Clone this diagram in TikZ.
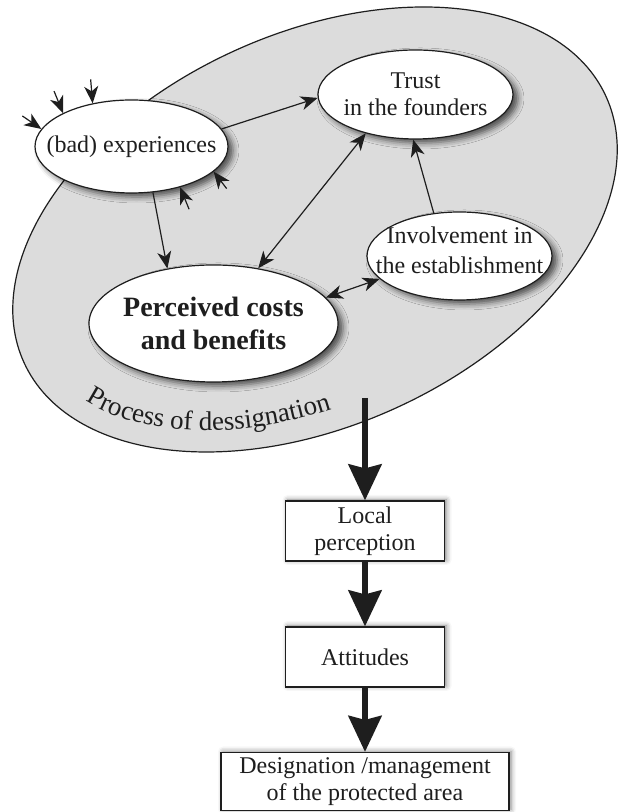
\documentclass[tikz,border=0pt]{standalone}
\usepackage{fontspec}
\setmainfont{Liberation Serif}
\usepackage{tikz}
\usetikzlibrary{arrows.meta,positioning,shapes.geometric,shadows.blur,decorations.text,calc}
\definecolor{procgray}{HTML}{DCDCDC}
\definecolor{inkcolor}{HTML}{1E1E1E}

\begin{document}
\begin{tikzpicture}[
        x=0.5pt,
        y=0.5pt,
        >={Stealth[length=8.5pt, width=7pt, inset=2.5pt]},
        procshape/.style={ellipse, draw=inkcolor, fill=procgray, line width=0.6pt, inner sep=0pt},
        bubble/.style={ellipse, draw=inkcolor, fill=white, line width=0.6pt, inner sep=0pt,
            blur shadow={shadow xshift=2.5pt, shadow yshift=-2pt, shadow blur radius=3pt, shadow opacity=65}},
        stagebox/.style={rectangle, draw=inkcolor, fill=white, line width=0.6pt, inner sep=0pt,
            minimum width=79.5pt, minimum height=30pt,
            blur shadow={shadow xshift=1pt, shadow yshift=0.5pt, shadow blur radius=2.5pt, shadow opacity=50}},
        bubbletext/.style={align=center, font=\fontsize{12}{13.5}\selectfont, text=inkcolor, inner sep=0pt},
        link/.style={->, line width=0.6pt, inkcolor},
        twolink/.style={<->, line width=0.6pt, inkcolor},
        flow/.style={-{Stealth[length=18pt, width=16.5pt, inset=2pt]}, line width=3pt, inkcolor}
    ]
    \useasboundingbox (0,0) rectangle (618,812);

    % process of designation
    \node[procshape, rotate=24.6, minimum width=320pt, minimum height=196pt] (process) at (315,582.5) {};
    \path[decorate, decoration={text along path, text align=center,
            text={|\fontsize{13.5}{13.5}\selectfont\color{inkcolor}|Process of dessignation}},
            shift={(process.center)}, rotate=24.6]
        (188:149pt and 87pt) arc[start angle=188, end angle=266, x radius=149pt, y radius=87pt];

    \node[bubble, minimum width=96.5pt, minimum height=46.5pt] (bad) at (131.5,665.5) {};
    \node[bubble, minimum width=97.5pt, minimum height=44.5pt] (trust) at (415.5,717.5) {};
    \node[bubble, minimum width=92.5pt, minimum height=44pt] (involve) at (459.5,556) {};
    \node[bubble, minimum width=124.5pt, minimum height=58.5pt] (costs) at (213.5,488.5) {};

    \node[bubbletext] (badtext) at (bad) {(bad) experiences};
    \node[bubbletext] (trusttext) at (trust) {Trust\\in the founders};
    \node[bubbletext, font=\fontsize{12}{15}\selectfont] (involvetext) at ([yshift=3pt]involve.center) {Involvement in\\the establishment};
    \node[bubbletext, font=\fontsize{14}{16.5}\selectfont\bfseries] (coststext) at (costs) {Perceived costs\\and benefits};

    \draw[link] (bad.11) -- (trust.182);
    \draw[link] (bad.-65) -- (costs.130);
    \draw[twolink] (costs.51) -- (trust.218);
    \draw[link] (involve.121) -- (trust.267);
    \draw[twolink] (costs.13) -- (involve.196);

    % outside influences
    \foreach \ang/\dx/\dy [count=\i] in {169/-19/13, 154/-9/22, 132/-2/24, -40/9/-22, -17/13/-17}{
        \coordinate (cause\i) at ($(bad.\ang)+(\dx,\dy)$);
        \draw[link] (cause\i) -- (bad.\ang);
    }

    % outcome chain
    \node[stagebox] (local) at (365,281) {};
    \node[bubbletext] (localtext) at (local) {Local\\perception};
    \node[stagebox] (attit) at (365,155) {};
    \node[bubbletext] (attittext) at (attit) {Attitudes};
    \node[stagebox, minimum width=144pt, minimum height=29pt] (design) at (365,30.5) {};
    \node[bubbletext] (designtext) at (design) {Designation /management\\of the protected area};

    \coordinate (flowstart) at (365,414);
    \draw[flow] (flowstart) -- (local);
    \draw[flow] (local) -- (attit);
    \draw[flow] (attit) -- (design);
\end{tikzpicture}
\end{document}
